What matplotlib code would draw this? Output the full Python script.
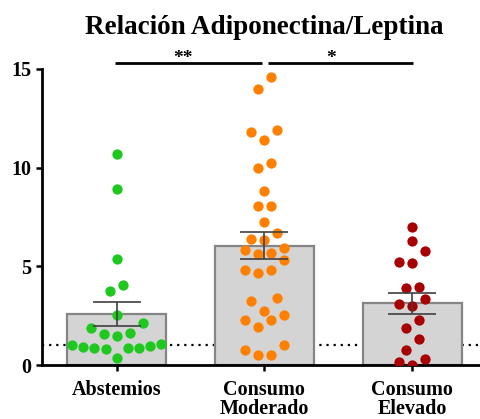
import numpy as np
import matplotlib
matplotlib.use('Agg')
import matplotlib.pyplot as plt

# ── data ─────────────────────────────────────────────────────────────────────
groups = ['Abstemios', 'Consumo\nModerado', 'Consumo\nElevado']
colors = ['#1ec81e', '#ff8000', '#a80000']

abstemios = [10.70, 8.94, 5.38, 4.04, 3.77, 2.53, 1.85, 2.11, 1.58, 1.49,
             1.63, 1.06, 0.96, 0.84, 0.84, 0.37, 0.79, 0.84, 0.92, 1.02]
moderado = [14.58, 13.98, 11.81, 11.89, 11.39, 9.98, 10.22, 8.81, 8.05, 8.05,
            7.25, 6.69, 6.32, 6.37, 5.82, 5.62, 5.33, 5.69, 5.95, 4.80,
            4.68, 4.80, 3.41, 3.24, 2.73, 2.52, 2.30, 2.30, 1.91, 0.74,
            0.49, 0.49, 1.01]
elevado = [6.98, 6.26, 5.80, 5.23, 5.15, 3.88, 3.94, 3.34, 3.07, 2.97,
           2.26, 1.86, 1.31, 0.75, 0.30, 0.00, 0.17]

series = [abstemios, moderado, elevado]
brackets = [(0, 1, '**'), (1, 2, '*')]
ref_line = 1.0

plt.rcParams['font.family'] = 'Liberation Serif'
plt.rcParams['font.weight'] = 'bold'


def swarm_offsets(vals, thr=0.7, step=0.088, max_span=0.6):
    """Prism-like rows: group close values, spread each row around centre."""
    vals = np.asarray(vals, dtype=float)
    order = np.argsort(vals, kind='stable')
    offs = np.zeros(len(vals))
    rows, cur = [], [order[0]]
    for i in order[1:]:
        if vals[i] - vals[cur[0]] > thr:
            rows.append(cur)
            cur = [i]
        else:
            cur.append(i)
    rows.append(cur)
    for row in rows:
        n = len(row)
        s = step if n < 2 else min(step, max_span / (n - 1))
        if n % 2:
            slots = [0]
            for k in range(1, n // 2 + 1):
                slots += [-k, k]
        else:
            slots = []
            for k in range(n // 2):
                slots += [-(k + 0.5), k + 0.5]
        for idx, sl in zip(row, slots):
            offs[idx] = sl * s
    return offs


fig = plt.figure(figsize=(4.81, 4.19), dpi=100)
ax = fig.add_axes([42 / 481, 54 / 419, 438 / 481, 296 / 419])

x = np.arange(len(groups))
means = [np.mean(v) for v in series]
sems = [np.std(v, ddof=1) / np.sqrt(len(v)) for v in series]

ax.bar(x, means, width=0.67, color='#d4d4d4', edgecolor='#858585',
       linewidth=1.6, zorder=1)
ax.axhline(ref_line, color='black', linestyle=(0, (1, 2.2)), linewidth=1.6,
           zorder=0.5)

for i, vals in enumerate(series):
    xs = x[i] + swarm_offsets(vals)
    ax.scatter(xs, vals, s=55, color=colors[i], linewidths=0, zorder=3)

ax.errorbar(x, means, yerr=sems, fmt='none', ecolor='#404040',
            elinewidth=1.2, capsize=17, capthick=1.2, zorder=4)

# significance brackets (small gap where they meet)
for a, b, lab in brackets:
    x0 = x[a] + (0.025 if a > 0 else -0.01)
    x1 = x[b] - (0.015 if b < len(groups) - 1 else -0.005)
    ax.plot([x0, x1], [15.3, 15.3], color='black', linewidth=2,
            clip_on=False, solid_capstyle='butt')
    ax.text((x[a] + x[b]) / 2 - 0.05, 15.12, lab, ha='center', va='bottom',
            fontsize=14, fontweight='bold')

ax.set_xlim(-0.505, 2.46)
ax.set_ylim(0, 15)
ax.set_yticks([0, 5, 10, 15])
ax.set_xticks(x)
ax.set_xticklabels(groups, linespacing=0.95)
ax.spines['top'].set_visible(False)
ax.spines['right'].set_visible(False)
for sp in ['left', 'bottom']:
    ax.spines[sp].set_linewidth(2)
ax.tick_params(axis='both', labelsize=14.5, width=1.8, length=4.5)
ax.tick_params(axis='y', pad=3)
ax.tick_params(axis='x', pad=6)
for lab in ax.get_xticklabels() + ax.get_yticklabels():
    lab.set_fontweight('bold')

fig.text(264 / 481, 1 - 34 / 419, 'Relación Adiponectina/Leptina',
         ha='center', va='baseline', fontsize=19.5, fontweight='bold')

fig.savefig('out.png', dpi=100, facecolor='white')
